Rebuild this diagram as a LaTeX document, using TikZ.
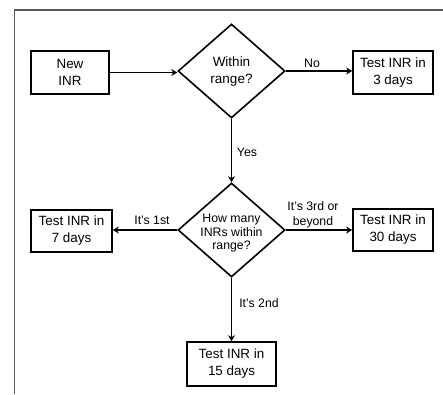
\documentclass[tikz,border=0pt]{standalone}
\usepackage{fontspec}
\setmainfont{Liberation Sans}
\usetikzlibrary{shapes.geometric,arrows.meta}
\begin{document}
\begin{tikzpicture}[x=1pt,y=-1pt,
  box/.style={draw=black,line width=1.6pt,rectangle,inner sep=0pt,align=center,font=\fontsize{13.4}{17}\selectfont},
  dia/.style={draw=black,line width=1.6pt,diamond,inner sep=0pt,minimum width=107pt,minimum height=94pt},
  dtxt/.style={align=center,inner sep=0pt},
  lbl/.style={align=center,inner sep=0pt,font=\fontsize{12.3}{15}\selectfont},
  arr/.style={line width=1.7pt,-{Stealth[length=6pt,width=7pt]}},
  frame/.style={draw=black!65,line width=1.5pt}]
\useasboundingbox (0,0) rectangle (443,394);
\fill[white] (0,0) rectangle (443,394);
\draw[frame] (14.5,394) -- (14.5,10) -- (443,10);
\node[box,minimum width=78pt,minimum height=43pt] (newinr) at (70,72.5) {New\\INR};
\node[dia] (d1) at (231.5,71) {};
\node[dtxt,font=\fontsize{13.5}{17}\selectfont] (d1t) at (231.5,71.5) {Within\\range?};
\node[box,minimum width=80pt,minimum height=43pt] (t3) at (393,72.5) {Test INR in\\3 days};
\node[dia] (d2) at (231.5,230) {};
\node[dtxt,font=\fontsize{12.3}{13.5}\selectfont] (d2t) at (231.5,233.5) {How many\\INRs within\\range?};
\node[box,minimum width=81pt,minimum height=42pt] (t7) at (71.5,231) {Test INR in\\7 days};
\node[box,minimum width=80pt,minimum height=42pt] (t30) at (393,230) {Test INR in\\30 days};
\node[box,minimum width=89pt,minimum height=44pt] (t15) at (231.5,364) {Test INR in\\15 days};
\draw[arr] (newinr.east) -- (d1.west |- newinr.east);
\draw[arr] (d1.east) -- (t3.west |- d1.east);
\draw[arr] (d1.south) -- (d2.north);
\draw[arr] (d2.west) -- (t7.east |- d2.west);
\draw[arr] (d2.east) -- (t30.west |- d2.east);
\draw[arr] (d2.south) -- (t15.north);
\node[lbl] (lno) at (312,63) {No};
\node[lbl] (lyes) at (247,152) {Yes};
\node[lbl] (l1) at (152,220) {It’s 1st};
\node[lbl] (l3) at (313,214.5) {It’s 3rd or\\beyond};
\node[lbl] (l2) at (259,303) {It’s 2nd};
\end{tikzpicture}
\end{document}
